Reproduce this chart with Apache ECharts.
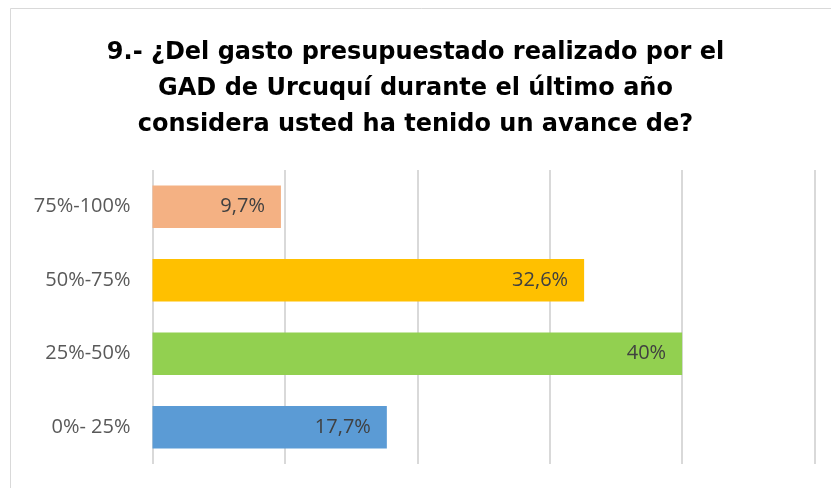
<!DOCTYPE html>
<html>
<head>
<meta charset="utf-8">
<script src="https://cdn.jsdelivr.net/npm/echarts@6/dist/echarts.min.js"></script>
<style>
  html, body { margin: 0; padding: 0; background: #fff; }
  #main { width: 831px; height: 488px; }
</style>
</head>
<body>
<div id="main"></div>
<script>
// rangos de avance, de abajo hacia arriba
const categorias = ['0%- 25%', '25%-50%', '50%-75%', '75%-100%'];
const porcentajes = [17.7, 40, 32.6, 9.7];
const colores = ['#5b9bd5', '#92d050', '#ffc000', '#f4b183'];

var myChart = echarts.init(document.getElementById('main'));

var option = {
    backgroundColor: '#fff',
    title: {
        text: '9.- ¿Del gasto presupuestado realizado por el\nGAD de Urcuquí durante el último año\nconsidera usted ha tenido un avance de?',
        left: 'center',
        top: 30,
        textStyle: {
            fontFamily: 'DejaVu Sans',
            fontWeight: 'bold',
            fontSize: 24,
            lineHeight: 36,
            color: '#000'
        }
    },
    graphic: [{
        type: 'rect',
        shape: { x: 10.5, y: 8.5, width: 830, height: 490 },
        style: { fill: 'none', stroke: '#d9d9d9', lineWidth: 1 },
        silent: true
    }],
    grid: {
        left: 152.5,
        right: 16.5,
        top: 170,
        height: 294
    },
    xAxis: {
        type: 'value',
        min: 0,
        max: 50,
        interval: 10,
        axisLabel: { show: false },
        axisLine: { show: false },
        axisTick: { show: false },
        splitLine: { lineStyle: { color: '#d9d9d9', width: 2 } }
    },
    yAxis: {
        type: 'category',
        data: categorias,
        axisLine: { show: false },
        axisTick: { show: false },
        axisLabel: {
            color: '#595959',
            fontSize: 20,
            fontFamily: 'Open Sans',
            margin: 22
        }
    },
    series: [{
        type: 'bar',
        barWidth: '58%',
        data: porcentajes.map(function (v, i) {
            return { value: v, itemStyle: { color: colores[i] } };
        }),
        label: {
            show: true,
            position: 'insideRight',
            distance: 16,
            color: '#404040',
            fontSize: 20,
            fontFamily: 'Open Sans',
            formatter: function (p) {
                return String(p.value).replace('.', ',') + '%';
            }
        }
    }]
};
myChart.setOption(option);
</script>
</body>
</html>
